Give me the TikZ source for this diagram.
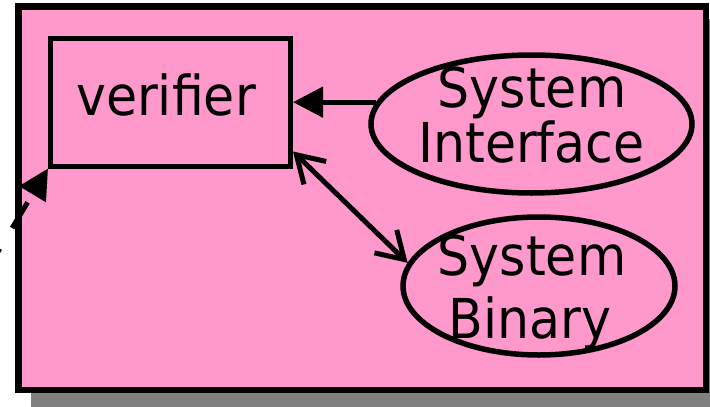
\documentclass[tikz,border=0pt]{standalone}
\usepackage{fontspec}
\setmainfont{DejaVu Sans}[FakeStretch=0.92]
\usetikzlibrary{arrows.meta,shapes.geometric}
\definecolor{panelpink}{RGB}{255,153,204}
\definecolor{shadowgray}{RGB}{128,128,128}
\tikzset{
  big/.style={font=\fontsize{55}{55}\selectfont, inner sep=0pt},
  procbox/.style={draw, line width=5pt, minimum width=240pt, minimum height=128pt, inner sep=0pt},
  store/.style={draw, ellipse, line width=5.5pt, inner sep=0pt},
  link/.style={line width=5pt},
  solidtip/.style={-{Triangle[length=30pt,width=30pt]}},
  barbs/.style={{Straight Barb[length=26pt,width=32pt]}-{Straight Barb[length=26pt,width=32pt]}},
}
\begin{document}
\begin{tikzpicture}[x=1pt,y=-1pt]
\useasboundingbox (0,0) rectangle (710,407);
% panel with its drop shadow
\fill[shadowgray] (31,19) rectangle (726,410);
\draw[line width=6.5pt, fill=panelpink] (18.5,6.5) rectangle (706,390);
% components
\node[procbox] (ver) at (170.5,102) {};
\node[big, anchor=base] (vertext) at (166,115) {verifier};
\node[store, minimum width=321pt, minimum height=138pt] (si) at (531.5,124) {};
\node[big, anchor=base] (si1) at (532,107) {System};
\node[big, anchor=base] (si2) at (531.5,162) {Interface};
\node[store, minimum width=272pt, minimum height=138pt] (sb) at (539,286) {};
\node[big, anchor=base] (sb1) at (532,275) {System};
\node[big, anchor=base] (sb2) at (530,338) {Binary};
% connectors
\draw[link, solidtip] (si.172) -- (ver.east |- si.172);
\draw[link, barbs] (ver.-22) -- (sb.170);
\coordinate (src) at (-42,318);
\draw[link, solidtip, dash pattern=on 30pt off 24pt, dash phase=3pt] (src) -- (ver.south west);
\end{tikzpicture}
\end{document}
